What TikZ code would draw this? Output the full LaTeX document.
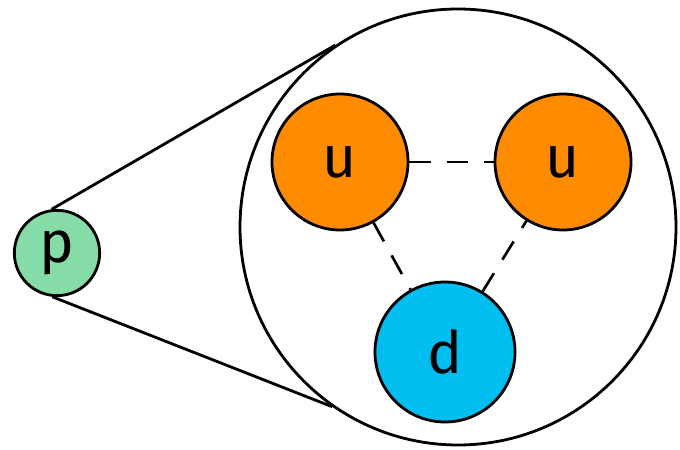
\documentclass[tikz,border=0pt]{standalone}
\usepackage{fontspec}
\setsansfont{Fira Sans}
\definecolor{pgreen}{RGB}{134,220,166}
\definecolor{uorange}{RGB}{255,140,0}
\definecolor{dblue}{RGB}{0,190,240}
\begin{document}
\begin{tikzpicture}[x=0.75pt, y=0.75pt,
          font=\sffamily\fontsize{44}{44}\selectfont,
          blob/.style={circle, draw=black, line width=2.1pt, inner sep=0pt},
          ublob/.style={blob, fill=uorange, minimum size=102pt},
          dblob/.style={blob, fill=dblue, minimum size=105pt},
          pblob/.style={blob, fill=pgreen, minimum size=64pt},
          link/.style={line width=2pt, dash pattern=on 16pt off 12pt}]
        % pixel grid of the 680 x 449 reference, y upwards
        \useasboundingbox (0,0) rectangle (680,449);
        \node[blob, minimum size=327pt] (grp) at (458,222) {};
        \node[pblob] (p) at (57,196) {p};
        \node[ublob] (u1) at (340,287) {u};
        \node[ublob] (u2) at (563,287) {u};
        \node[dblob] (d) at (445,97) {d};
        % zoom lines from p to the group
        \draw[line width=2.1pt] (p.97) -- (grp.124);
        \draw[line width=2.1pt] (p.264) -- (grp.235);
        \draw[link] (u1) -- (u2);
        \draw[link] (u1) -- (d);
        \draw[link] (d) -- (u2);
      \end{tikzpicture}
\end{document}
